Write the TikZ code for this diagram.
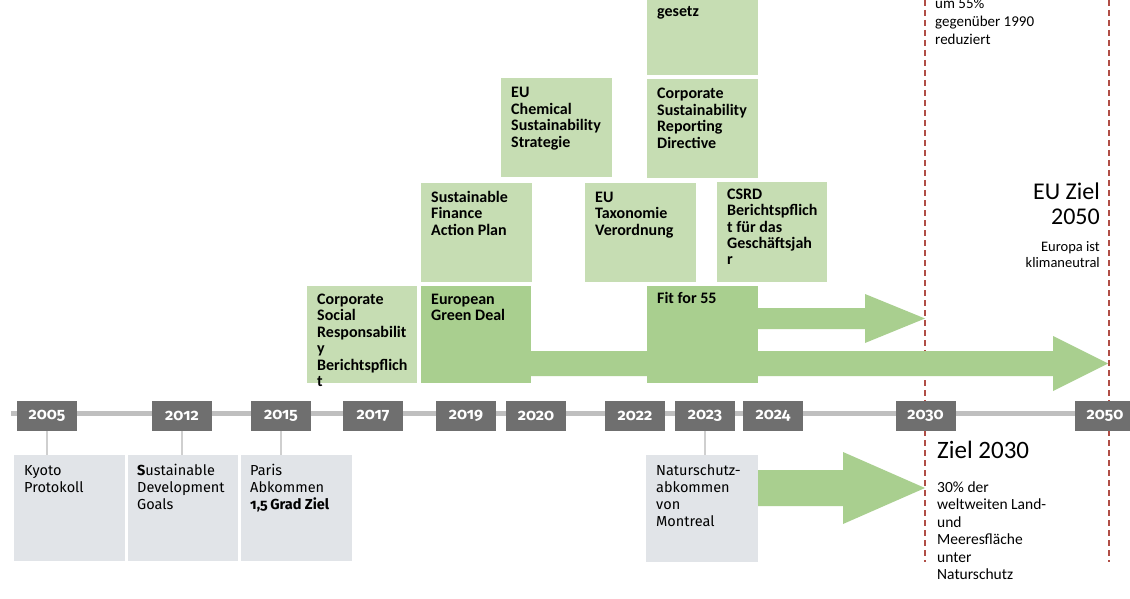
\documentclass[tikz,border=0pt]{standalone}
\usepackage{fontspec}
\setmainfont{Carlito}
\newfontfamily\fira[Numbers=OldStyle]{Fira Sans}
\usetikzlibrary{calc}
\definecolor{lgreen}{HTML}{C6DDB3}
\definecolor{dgreen}{HTML}{A9CF8F}
\definecolor{lgray}{HTML}{E1E4E8}
\definecolor{ygray}{HTML}{6F6F6F}
\definecolor{tline}{HTML}{BFBFBF}
\definecolor{cline}{HTML}{CFCFCF}
\definecolor{dred}{HTML}{B04E46}
\newcommand{\ml}[1]{\parbox[t]{6cm}{\raggedright #1}}
\newcommand{\mr}[1]{\parbox[t]{6cm}{\raggedleft #1}}
\tikzset{
  box/.style={draw=none, inner sep=0pt, outer sep=0pt, anchor=north west},
  lbox/.style={box, fill=lgreen},
  dbox/.style={box, fill=dgreen},
  gbox/.style={box, fill=lgray, minimum width=111pt, minimum height=106pt},
  ybox/.style={fill=ygray, inner sep=0pt, outer sep=0pt, minimum width=60pt, minimum height=30pt,
    text=white, font=\fira\bfseries\fontsize{16}{16}\selectfont},
  gtxt/.style={anchor=base west, inner sep=0pt, font=\bfseries\fontsize{16}{16.5}\selectfont},
  dtxt/.style={anchor=base west, inner sep=0pt, font=\fira\fontsize{14.5}{17}\selectfont},
  ntxt/.style={anchor=base west, inner sep=0pt, font=\fontsize{15.5}{17.5}\selectfont},
  rtxt/.style={anchor=base east, inner sep=0pt},
  conn/.style={draw=cline, line width=2pt},
  goal/.style={draw=dred, line width=1.5pt, dash pattern=on 6pt off 4pt},
  arr/.style={fill=dgreen, draw=none}
}
\begin{document}
\begin{tikzpicture}[x=1pt, y={(0pt,-1pt)}]
\useasboundingbox (0,0) rectangle (1130,599);
\fill[white] (0,0) rectangle (1130,599);

% timeline
\draw[tline, line width=5pt] (11,413) -- (1130,413);

% goal lines
\coordinate (g30top) at (925,0);
\coordinate (g30bot) at (925,562);
\coordinate (g50top) at (1109,0);
\coordinate (g50bot) at (1109,562);
\draw[goal] (g30top) -- (g30bot);
\draw[goal] (g50top) -- (g50bot);

% green boxes
\node[lbox, minimum width=111pt, minimum height=80pt] (klima) at (647,-5) {};
\node[lbox, minimum width=111pt, minimum height=99pt] (csrdir) at (647,79) {};
\node[lbox, minimum width=111pt, minimum height=99pt] (chem) at (501,78) {};
\node[lbox, minimum width=111pt, minimum height=99pt] (sfap) at (421,183) {};
\node[lbox, minimum width=111pt, minimum height=99pt] (taxo) at (585,183) {};
\node[lbox, minimum width=110pt, minimum height=100pt] (csrdb) at (717,182) {};
\node[lbox, minimum width=110pt, minimum height=97pt] (csr) at (307,286) {};

% arrows
\coordinate (tipA) at (925,318.5);
\coordinate (tipB) at (1108,363.5);
\coordinate (tipC) at (925,488);
\fill[arr] (531,351) -- (1053,351) -- (1053,336) -- (tipB) -- (1053,391) -- (1053,376) -- (531,376) -- cycle;
\fill[arr] (758,308) -- (865,308) -- (865,294) -- (tipA) -- (865,343) -- (865,329) -- (758,329) -- cycle;
\fill[arr] (758,470) -- (843,470) -- (843,452) -- (tipC) -- (843,524) -- (843,506) -- (758,506) -- cycle;

\node[dbox, minimum width=110pt, minimum height=97pt] (egd) at (421,286) {};
\node[dbox, minimum width=111pt, minimum height=97pt] (fit) at (647,286) {};

% green box texts
\node[gtxt] at ([shift={(10,17)}]klima.south west |- 0,0) {gesetz};
\node[gtxt] at ([shift={(10,20)}]csrdir.north west) {\ml{Corporate\\Sustainability\\Reporting\\Directive}};
\node[gtxt] at ([shift={(10,20)}]chem.north west) {\ml{EU\\Chemical\\Sustainability\\Strategie}};
\node[gtxt] at ([shift={(10,19)}]sfap.north west) {\ml{Sustainable\\Finance\\Action Plan}};
\node[gtxt] at ([shift={(10,19)}]taxo.north west) {\ml{EU\\Taxonomie\\Verordnung}};
\node[gtxt] at ([shift={(10,17)}]csrdb.north west) {\ml{CSRD\\Berichtspflich\\t f\"ur das\\Gesch\"aftsjah\\r}};
\node[gtxt] at ([shift={(10,18)}]csr.north west) {\ml{Corporate\\Social\\Responsabilit\\y\\Berichtspflich\\t}};
\node[gtxt] at ([shift={(10,18)}]egd.north west) {\ml{European\\Green Deal}};
\node[gtxt] at ([shift={(10,17)}]fit.north west) {Fit for 55};

% description boxes
\node[gbox] (kyoto) at (14,455) {};
\node[gbox, minimum width=110pt] (sdg) at (128,455) {};
\node[gbox] (paris) at (241,455) {};
\node[gbox, minimum width=112pt, minimum height=107pt] (mont) at (646,455) {};

% year boxes
\node[ybox] (y2005) at (47,416) {2005};
\node[ybox] (y2012) at (182,416) {2012};
\node[ybox] (y2015) at (281,416) {2015};
\node[ybox] (y2017) at (373,416) {2017};
\node[ybox] (y2019) at (466,416) {2019};
\node[ybox] (y2020) at (536,416) {2020};
\node[ybox] (y2022) at (635,416) {2022};
\node[ybox] (y2023) at (705,416) {2023};
\node[ybox] (y2024) at (773,416) {2024};
\node[ybox] (y2030) at (925.5,416) {2030};
\node[ybox] (y2050) at (1105,416) {2050};

% connectors
\draw[conn] (y2005.south) -- (y2005.south |- kyoto.north);
\draw[conn] (y2012.south) -- (y2012.south |- sdg.north);
\draw[conn] (y2015.south) -- (y2015.south |- paris.north);
\draw[conn] (y2023.south) -- (y2023.south |- mont.north);

% description texts
\node[dtxt] at ([shift={(10,20)}]kyoto.north west) {\ml{Kyoto\\Protokoll}};
\node[dtxt] at ([shift={(9,20)}]sdg.north west) {\ml{\textbf{S}ustainable\\Development\\Goals}};
\node[dtxt] at ([shift={(9,20)}]paris.north west) {\ml{Paris\\Abkommen\\\textbf{1,5\,Grad Ziel}}};
\node[dtxt] at ([shift={(10,20)}]mont.north west) {\ml{Naturschutz-\\abkommen\\von\\Montreal}};

% goal texts
\node[ntxt] (ziel30) at (937,458) {\fontsize{25}{25}\selectfont Ziel 2030};
\node[ntxt] at (937,492) {\ml{30\% der\\weltweiten Land-\\und\\Meeresfl\"ache\\unter\\Naturschutz}};
\node[rtxt, font=\fontsize{24}{25}\selectfont] (ziel50) at (1100,199) {\mr{EU Ziel\\2050}};
\node[rtxt, font=\fontsize{14.5}{17}\selectfont] at (1100,251) {\mr{Europa ist\\klimaneutral}};
\node[ntxt, font=\fontsize{15}{18}\selectfont] at (935,9) {\ml{um 55\%\\gegen\"uber 1990\\reduziert}};
\end{tikzpicture}
\end{document}
